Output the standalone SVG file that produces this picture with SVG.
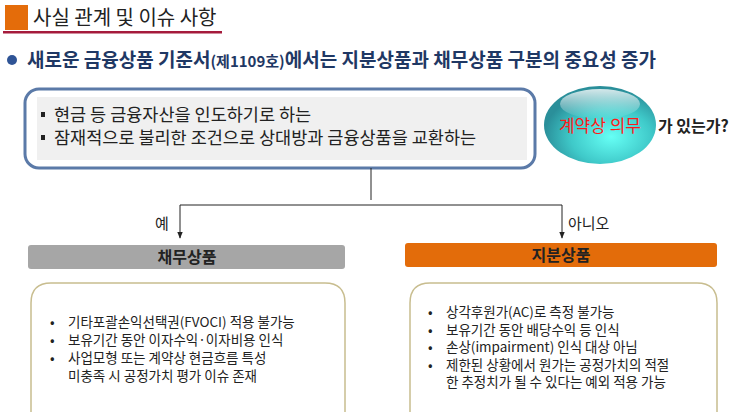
<svg xmlns="http://www.w3.org/2000/svg" width="743" height="416" viewBox="0 0 743 416">
<defs>
<style>
text{font-family:"Noto Sans CJK KR","Liberation Sans",sans-serif;fill:#222}
.b{font-size:13.5px}
.h{font-size:16px;font-weight:bold;text-anchor:middle}
.c{fill:none;stroke:#222;stroke-width:1}
.box{fill:#fff;stroke:#c8bd8f;stroke-width:1.5}
</style>
<marker id="a" viewBox="0 0 10 10" refX="9" refY="5" markerWidth="7" markerHeight="7" orient="auto"><path d="M0,1 L10,5 L0,9 z" fill="#222"/></marker>
<radialGradient id="s" cx="0.6" cy="0.65" r="0.6"><stop offset="0" stop-color="#66fff5"/><stop offset="0.6" stop-color="#3fc9c9"/><stop offset="1" stop-color="#2a8f9a"/></radialGradient>
<linearGradient id="hl" x1="0" y1="0" x2="0" y2="1"><stop offset="0" stop-color="#fff" stop-opacity="0.8"/><stop offset="1" stop-color="#fff" stop-opacity="0"/></linearGradient>
</defs>
<g id="title">
<rect x="5" y="5" width="23" height="25" fill="#e46c0a"/>
<text x="33" y="25" style="font-size:20px">사실 관계 및 이슈 사항</text>
<rect x="3" y="31" width="219" height="2.5" fill="#a51b3c"/>
</g>
<g id="subtitle">
<circle cx="12" cy="60" r="5" fill="#2f5496"/>
<text x="27" y="67" style="font-size:19px;font-weight:bold;fill:#1f3864">새로운 금융상품 기준서<tspan style="font-size:15px">(제1109호)</tspan>에서는 지분상품과 채무상품 구분의 중요성 증가</text>
</g>
<g id="question">
<rect x="25" y="89" width="510" height="79" rx="14" fill="#fff" stroke="#5b7aa8" stroke-width="3"/>
<rect x="37" y="97" width="490" height="63" fill="#f0f0f0"/>
<rect x="41" y="112" width="4" height="5" fill="#222"/>
<rect x="41" y="135" width="4" height="5" fill="#222"/>
<text x="54" y="121" style="font-size:17.5px">현금 등 금융자산을 인도하기로 하는</text>
<text x="54" y="144" style="font-size:17.5px">잠재적으로 불리한 조건으로 상대방과 금융상품을 교환하는</text>
</g>
<g id="sphere">
<ellipse cx="600" cy="125" rx="56" ry="39" fill="url(#s)"/>
<ellipse cx="600" cy="104" rx="40" ry="15" fill="url(#hl)"/>
<text x="600" y="132" style="font-size:17px;fill:#ff1a1a;text-anchor:middle">계약상 의무</text>
<text x="658" y="132" style="font-size:16px;font-weight:bold">가 있는가?</text>
</g>
<g id="connectors">
<path class="c" d="M371,168 V200"/>
<path class="c" d="M371,205 H180 V238" marker-end="url(#a)"/>
<path class="c" d="M371,205 H562 V238" marker-end="url(#a)"/>
<text x="155" y="229" style="font-size:15px">예</text>
<text x="568" y="229" style="font-size:15px">아니오</text>
</g>
<g id="debt">
<rect x="28" y="245" width="317" height="24" rx="3" fill="#a6a6a6"/>
<text class="h" x="187" y="263">채무상품</text>
<path class="box" d="M31,412 V303 Q31,283 51,283 H325 Q345,283 345,303 V412"/>
<g class="b">
<text x="50" y="327">•</text><text x="68" y="327">기타포괄손익선택권(FVOCI) 적용 불가능</text>
<text x="50" y="345">•</text><text x="68" y="345">보유기간 동안 이자수익·이자비용 인식</text>
<text x="50" y="363">•</text><text x="68" y="363">사업모형 또는 계약상 현금흐름 특성</text>
<text x="68" y="381">미충족 시 공정가치 평가 이슈 존재</text>
</g>
</g>
<g id="equity">
<rect x="405" y="243" width="312" height="24" rx="3" fill="#e36c0a"/>
<text class="h" x="561" y="261">지분상품</text>
<path class="box" d="M410,412 V303 Q410,283 430,283 H697 Q717,283 717,303 V412"/>
<g class="b">
<text x="428" y="317">•</text><text x="446" y="317">상각후원가(AC)로 측정 불가능</text>
<text x="428" y="335">•</text><text x="446" y="335">보유기간 동안 배당수익 등 인식</text>
<text x="428" y="352">•</text><text x="446" y="352">손상(impairment) 인식 대상 아님</text>
<text x="428" y="370">•</text><text x="446" y="370">제한된 상황에서 원가는 공정가치의 적절</text>
<text x="446" y="387">한 추정치가 될 수 있다는 예외 적용 가능</text>
</g>
</g>
</svg>
